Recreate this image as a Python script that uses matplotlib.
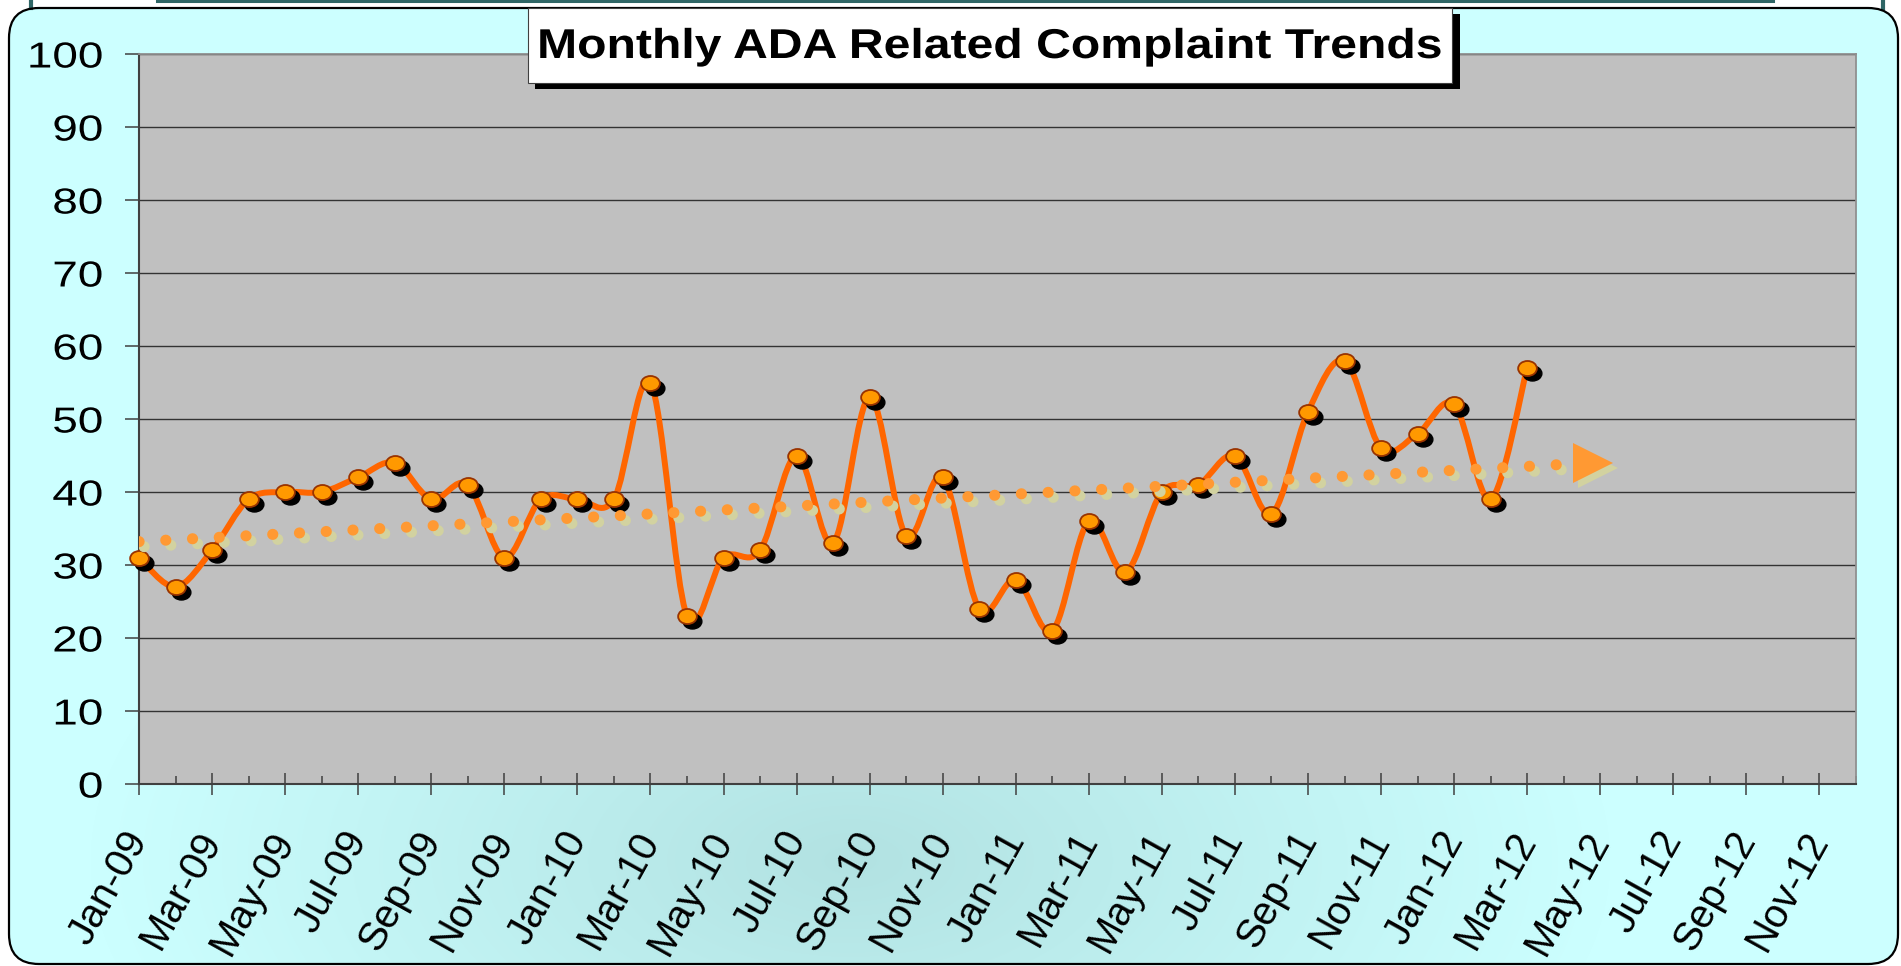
import numpy as np
import matplotlib
matplotlib.use("Agg")
import matplotlib.pyplot as plt
from matplotlib.path import Path
from matplotlib.patches import PathPatch, FancyBboxPatch, Rectangle
from matplotlib import transforms, patheffects

plt.rcParams['font.family'] = ['Liberation Sans', 'DejaVu Sans']

# complaints per month, Jan-09 .. Mar-12
complaints = [31, 27, 32, 39, 40, 40, 42, 44, 39, 41, 31, 39,
              39, 39, 55, 23, 31, 32, 45, 33, 53, 34, 42, 24,
              28, 21, 36, 29, 40, 41, 45, 37, 51, 58, 46, 48,
              52, 39, 57]
tick_labels = ['Jan-09', 'Mar-09', 'May-09', 'Jul-09', 'Sep-09', 'Nov-09',
               'Jan-10', 'Mar-10', 'May-10', 'Jul-10', 'Sep-10', 'Nov-10',
               'Jan-11', 'Mar-11', 'May-11', 'Jul-11', 'Sep-11', 'Nov-11',
               'Jan-12', 'Mar-12', 'May-12', 'Jul-12', 'Sep-12', 'Nov-12']
n_months = 48
# linear trend as drawn (month index, value), arrow head at the end
trend_x = [0, 39.8]
trend_y = [33.2, 44.0]

W, H = 1901, 966


class Stretch(patheffects.AbstractPathEffect):
    # widen text horizontally, the original chart has wide lettering
    def __init__(self, sx, anchor='center'):
        super().__init__()
        self.sx = sx
        self.anchor = anchor

    def draw_path(self, renderer, gc, tpath, affine, rgbFace=None):
        ext = tpath.get_extents(affine)
        cx = ext.x1 if self.anchor == 'right' else (ext.x0 + ext.x1) / 2
        aff = affine + transforms.Affine2D().translate(-cx, 0).scale(self.sx, 1).translate(cx, 0)
        renderer.draw_path(gc, tpath, aff, rgbFace)


fig = plt.figure(figsize=(W / 100, H / 100), dpi=100)
fig.patch.set_facecolor('white')

# ---- background panel with soft gradient ----
bg = fig.add_axes([0, 0, 1, 1])
bg.set_xlim(0, W)
bg.set_ylim(H, 0)
bg.axis('off')
box = FancyBboxPatch((9, 8), 1889, 956, boxstyle='round,pad=0,rounding_size=30',
                     facecolor='none', edgecolor='black', lw=1.6, zorder=3)
bg.add_patch(box)
yy, xx = np.mgrid[0:H, 0:W]
r = np.clip(np.sqrt(((xx - 850) / 760.0) ** 2 + ((yy - 860) / 400.0) ** 2), 0, 1)
light = np.array([204, 255, 255]) / 255.0
dark = np.array([178, 226, 226]) / 255.0
img = dark + (light - dark) * r[..., None]
im = bg.imshow(img, extent=(0, W, H, 0), aspect='auto', zorder=1)
im.set_clip_path(box)
bg.plot([157, 1773], [1.2, 1.2], color='#2f6666', lw=2.2, zorder=2)
bg.plot([31, 31], [0, 8], color='#2f6666', lw=3, zorder=2)
bg.plot([1883, 1883], [0, 8], color='#2f6666', lw=3, zorder=2)

# ---- main plot ----
ax = fig.add_axes([139 / W, (H - 784) / H, (1856 - 139) / W, (784 - 54) / H])
ax.set_facecolor('#c0c0c0')
ax.set_xlim(0, n_months - 1)
ax.set_ylim(0, 100)

x = np.arange(len(complaints))


def smooth_path(xs, ys):
    pts = np.column_stack([xs, ys]).astype(float)
    verts = [pts[0]]
    codes = [Path.MOVETO]
    for i in range(len(pts) - 1):
        p0 = pts[i - 1] if i > 0 else pts[i]
        p1 = pts[i]
        p2 = pts[i + 1]
        p3 = pts[i + 2] if i + 2 < len(pts) else pts[i + 1]
        verts += [p1 + (p2 - p0) / 6.0, p2 - (p3 - p1) / 6.0, p2]
        codes += [Path.CURVE4] * 3
    return Path(verts, codes)


line = PathPatch(smooth_path(x, complaints), facecolor='none', edgecolor='#ff6600',
                 lw=4.3, capstyle='round', joinstyle='round', zorder=3)
ax.add_patch(line)

ell = Path.unit_circle().transformed(transforms.Affine2D().scale(1.0, 0.8))
shadow = transforms.offset_copy(ax.transData, fig=fig, x=5, y=-5, units='dots')
ax.plot(x, complaints, ls='none', marker=ell, ms=13.5, mfc='black', mec='black',
        transform=shadow, zorder=3.5, clip_on=False)
ax.plot(x, complaints, ls='none', marker=ell, ms=13.5, mfc='#ff9900', mec='#993300',
        mew=1.3, zorder=4, clip_on=False)

# trend line (dotted) with shadow and arrow head
for tr, col, z in [(shadow, '#d2d2a0', 4.5), (ax.transData, '#ff9933', 5)]:
    ax.plot(trend_x, trend_y, color=col, lw=8, ls=(0, (0.01, 2.4)),
            dash_capstyle='round', transform=tr, zorder=z)
    ax.plot(trend_x[-1:], trend_y[-1:], ls='none', marker='>', ms=29, mfc=col,
            mew=0, transform=tr, zorder=z + 0.2)

# axes styling
ax.set_xticks(np.arange(0, n_months, 2))
ax.set_xticklabels(tick_labels, rotation=61, rotation_mode='anchor',
                   ha='right', va='center', fontsize=29)
ax.set_xticks(np.arange(0, n_months), minor=True)
ax.tick_params(axis='x', which='major', direction='inout', length=16, width=1.1,
               color='#404040', pad=28)
ax.tick_params(axis='x', which='minor', direction='in', length=6, width=1.1,
               color='#404040')
ax.set_yticks(np.arange(0, 101, 10))
ax.tick_params(axis='y', direction='out', length=10, width=1.1, color='#404040',
               pad=16, labelsize=26)
for lab in ax.get_yticklabels():
    lab.set_path_effects([Stretch(1.27, anchor='right')])
ax.yaxis.grid(True, color='#333333', lw=1.0)
ax.set_axisbelow(True)
for s in ['left', 'bottom']:
    ax.spines[s].set_color('#404040')
    ax.spines[s].set_linewidth(1.5)
for s in ['top', 'right']:
    ax.spines[s].set_color('#909090')
    ax.spines[s].set_linewidth(1.3)


# ---- title box ----
def fx(px):
    return px / W


def fy(py):
    return 1 - py / H


fig.patches.append(Rectangle((fx(535), fy(89)), fx(1460) - fx(535), fy(14) - fy(89),
                             transform=fig.transFigure, facecolor='black',
                             edgecolor='none', zorder=5))
fig.patches.append(Rectangle((fx(528), fy(83)), fx(1452) - fx(528), fy(8) - fy(83),
                             transform=fig.transFigure, facecolor='white',
                             edgecolor='#404040', lw=0.8, zorder=6))
title = fig.text(fx(990), fy(47), 'Monthly ADA Related Complaint Trends', ha='center',
                 va='center', fontsize=30, fontweight='bold', zorder=7)
title.set_path_effects([Stretch(1.155)])

fig.savefig('out.png', dpi=100)
